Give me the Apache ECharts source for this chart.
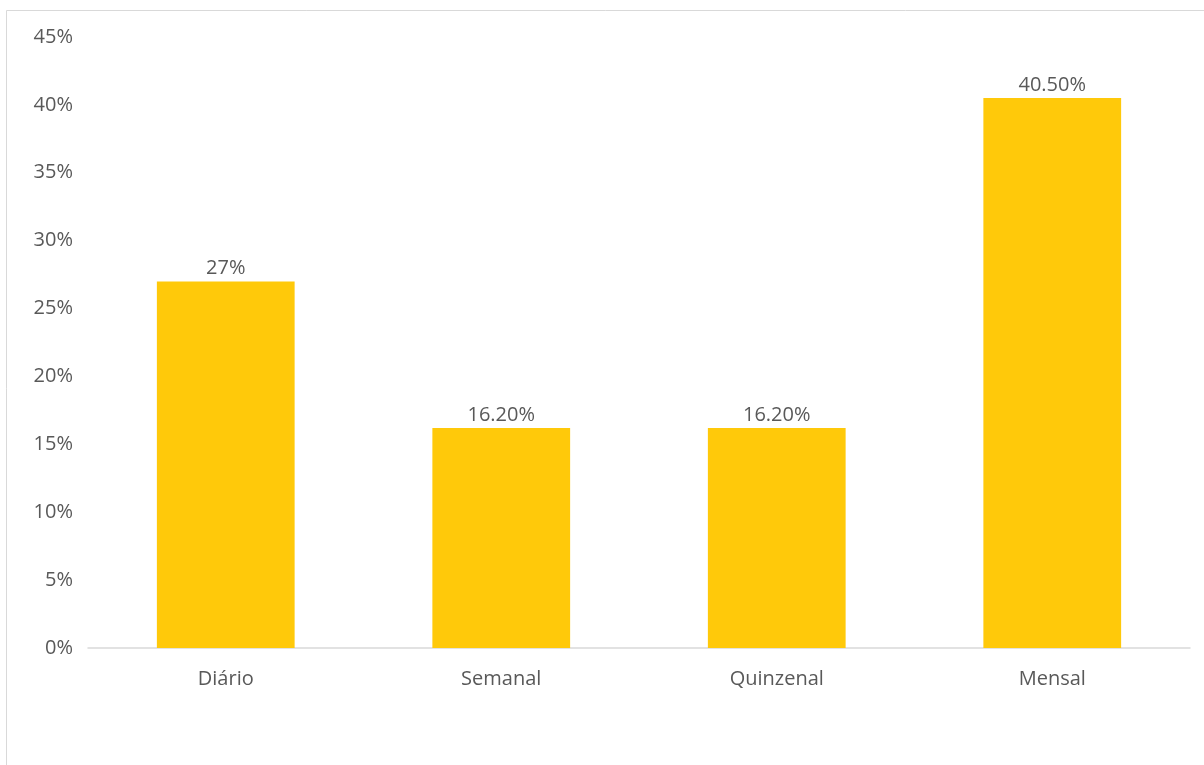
<!DOCTYPE html>
<html>
<head>
<meta charset="utf-8">
<script src="https://cdn.jsdelivr.net/npm/echarts@6/dist/echarts.min.js"></script>
<style>
  html, body { margin: 0; padding: 0; background: #ffffff; }
  #chart { width: 1204px; height: 765px; }
</style>
</head>
<body>
<div id="chart"></div>
<script>
// Frequency categories and their shares (percent)
const categories = ['Diário', 'Semanal', 'Quinzenal', 'Mensal'];
const shares = [27, 16.2, 16.2, 40.5];
const shareLabels = ['27%', '16.20%', '16.20%', '40.50%'];

// Y axis range and step (percent)
const yMin = 0;
const yMax = 45;
const yStep = 5;

const textColor = '#595959';
const fontFamily = '"Open Sans", "Noto Sans", sans-serif';
const fontSize = 20;

const chart = echarts.init(document.getElementById('chart'), null, { renderer: 'canvas' });

chart.setOption({
  animation: false,
  backgroundColor: '#ffffff',
  graphic: [{
    type: 'rect',
    shape: { x: 6.5, y: 10.5, width: 1220, height: 800 },
    style: { fill: 'none', stroke: '#d9d9d9', lineWidth: 1 },
    silent: true
  }],
  grid: { left: 88, right: 14, top: 37, bottom: 117, containLabel: false },
  xAxis: {
    type: 'category',
    data: categories,
    axisLine: { show: true, lineStyle: { color: '#d9d9d9', width: 1.5 } },
    axisTick: { show: false },
    axisLabel: { color: textColor, fontSize: fontSize, fontFamily: fontFamily, margin: 21 }
  },
  yAxis: {
    type: 'value',
    min: yMin,
    max: yMax,
    interval: yStep,
    axisLine: { show: false },
    axisTick: { show: false },
    splitLine: { show: false },
    axisLabel: {
      color: textColor, fontSize: fontSize, fontFamily: fontFamily, margin: 15,
      padding: [5, 0, 0, 0],
      formatter: v => v + '%'
    }
  },
  series: [{
    type: 'bar',
    data: shares,
    barWidth: '50%',
    itemStyle: { color: '#FFC90A' },
    label: {
      show: true,
      position: 'top',
      distance: 3,
      color: textColor,
      fontSize: fontSize,
      fontFamily: fontFamily,
      formatter: p => shareLabels[p.dataIndex]
    }
  }]
});
</script>
</body>
</html>
